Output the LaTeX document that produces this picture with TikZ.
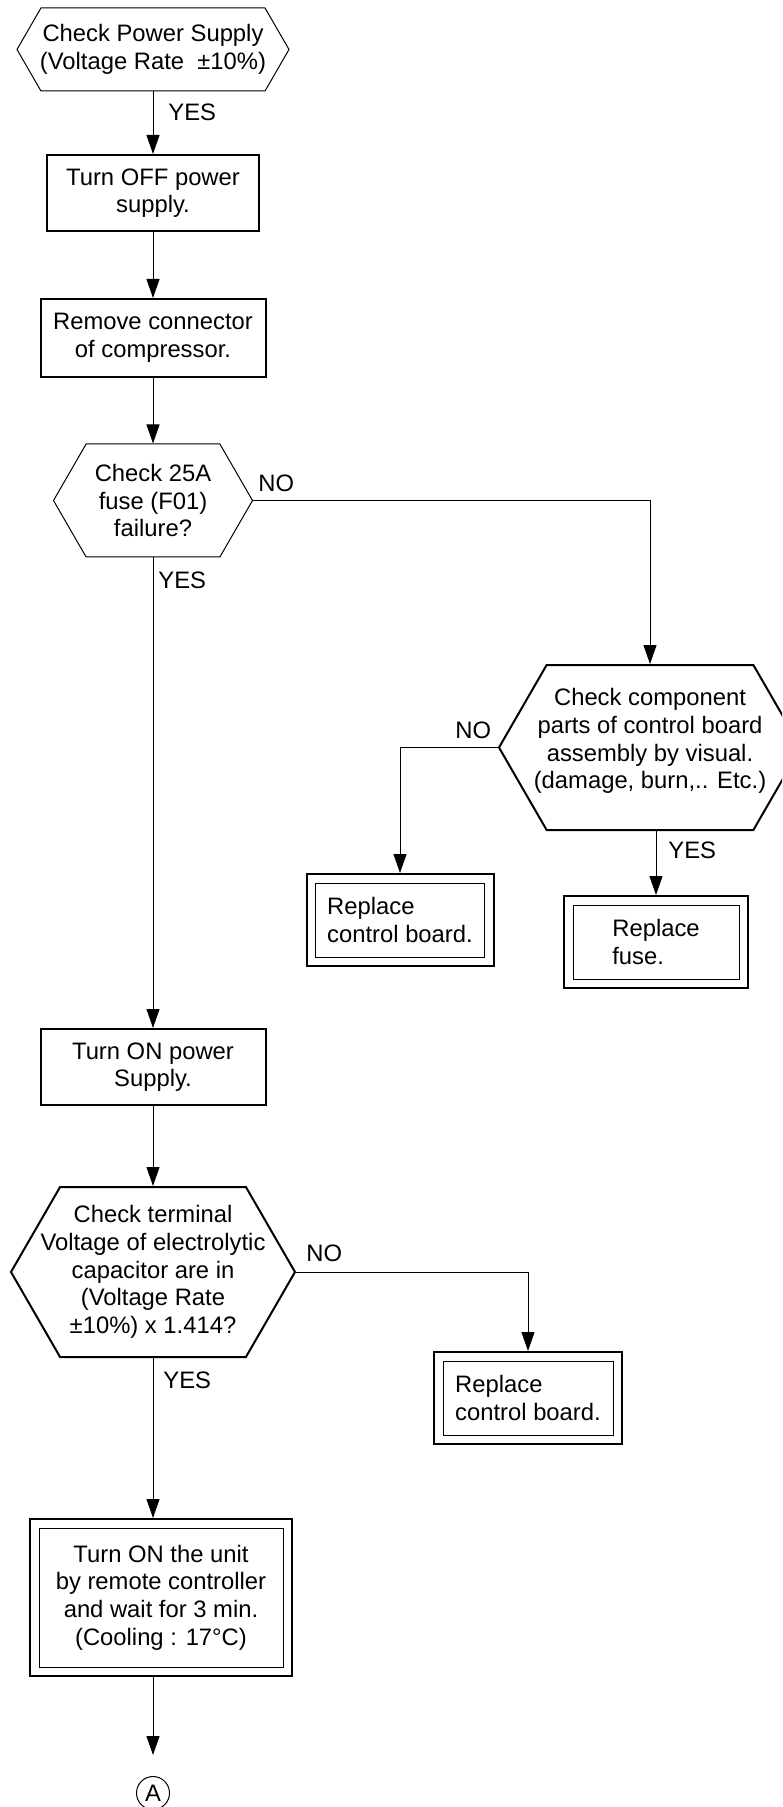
\documentclass[tikz,border=0pt]{standalone}
\usepackage{fontspec}
\setmainfont{Liberation Sans}
\usetikzlibrary{arrows.meta,positioning,shapes.symbols}

\begin{document}
\begin{tikzpicture}[x=0.5pt, y=-0.5pt, every node/.style={font=\fontsize{11.9}{13.8}\selectfont, inner sep=0pt, align=center},
	box/.style={draw, line width=1pt},
	dbox/.style={draw, line width=1pt, align=left, path picture={\draw[line width=0.5pt] ([shift={(4.5pt,-4.5pt)}]path picture bounding box.north west) rectangle ([shift={(-4.5pt,4.5pt)}]path picture bounding box.south east);}},
	hex/.style={draw, shape=signal, signal to=east and west, signal pointer angle=120, inner xsep=-20pt, line width=0.5pt},
	hexb/.style={hex, line width=1pt},
	arr/.style={-{Triangle[length=9.5pt, width=6.5pt]}, line width=0.5pt},
	lbl/.style={anchor=west}]
	\useasboundingbox (0,0) rectangle (782,1807);
	\clip (0,0) rectangle (782,1807);
	\node[hex, minimum width=136pt, minimum height=41.5pt] (chkPower) at (153,49.5) {Check Power Supply\\(Voltage Rate\ \ ±10\%)};
	\node[box, minimum width=106pt, minimum height=38pt] (offBox) at (153,193) {Turn OFF power\\supply.};
	\node[box, minimum width=112.5pt, minimum height=39pt] (rmBox) at (153,338) {Remove connector\\of compressor.};
	\node[hex, minimum width=99.5pt, minimum height=56.5pt] (fuseChk) at (153,500.5) {Check 25A\\fuse (F01)\\failure?};
	\node[hexb, minimum width=151pt, minimum height=82.5pt] (partChk) at (650,747.5) {Check component\\parts of control board\\assembly by visual.\\(damage, burn,.. Etc.)\\[-5pt]\mbox{}};
	\node[dbox, minimum width=93.5pt, minimum height=46pt] (boardA) at (400,920) {Replace\\control board.};
	\node[dbox, minimum width=92pt, minimum height=46pt] (fuseBox) at (656,942) {Replace\\fuse.};
	\node[box, minimum width=112.5pt, minimum height=38pt] (onBox) at (153,1067) {Turn ON power\\Supply.};
	\node[hexb, minimum width=142pt, minimum height=85pt] (capChk) at (153,1272) {Check terminal\\Voltage of electrolytic\\capacitor are in\\(Voltage Rate\\±10\%) x 1.414?};
	\node[dbox, minimum width=94pt, minimum height=46pt] (boardB) at (528,1398) {Replace\\control board.};
	\node[dbox, align=center, minimum width=131pt, minimum height=78.5pt] (unitBox) at (161,1597.5) {Turn ON the unit\\by remote controller\\and wait for 3 min.\\(Cooling : 17°C)};
	\node[draw, circle, line width=0.5pt, minimum size=16.5pt] (conA) at (153,1793) {A};
	\draw[arr] (chkPower.south) -- (offBox.north);
	\draw[arr] (offBox.south) -- (rmBox.north);
	\draw[arr] (rmBox.south) -- (fuseChk.north);
	\draw[arr] (fuseChk.east) -| (partChk.north);
	\draw[arr] (partChk.west) -| (boardA.north);
	\draw[arr] (fuseBox.north |- partChk.south) -- (fuseBox.north);
	\draw[arr] (fuseChk.south) -- (onBox.north);
	\draw[arr] (onBox.south) -- (capChk.north);
	\draw[arr] (capChk.east) -| (boardB.north);
	\draw[arr] (capChk.south) -- (capChk.south |- unitBox.north);
	\draw[arr, shorten >=10.5pt] (conA |- unitBox.south) -- (conA.north);
	\node[lbl] (yesPower) at (168,112) {YES};
	\node[lbl] (noFuse) at (258,483) {NO};
	\node[lbl] (yesFuse) at (158,580) {YES};
	\node[lbl] (noPart) at (455,730) {NO};
	\node[lbl] (yesPart) at (668,850) {YES};
	\node[lbl] (noCap) at (306,1253) {NO};
	\node[lbl] (yesCap) at (163,1380) {YES};
\end{tikzpicture}
\end{document}
